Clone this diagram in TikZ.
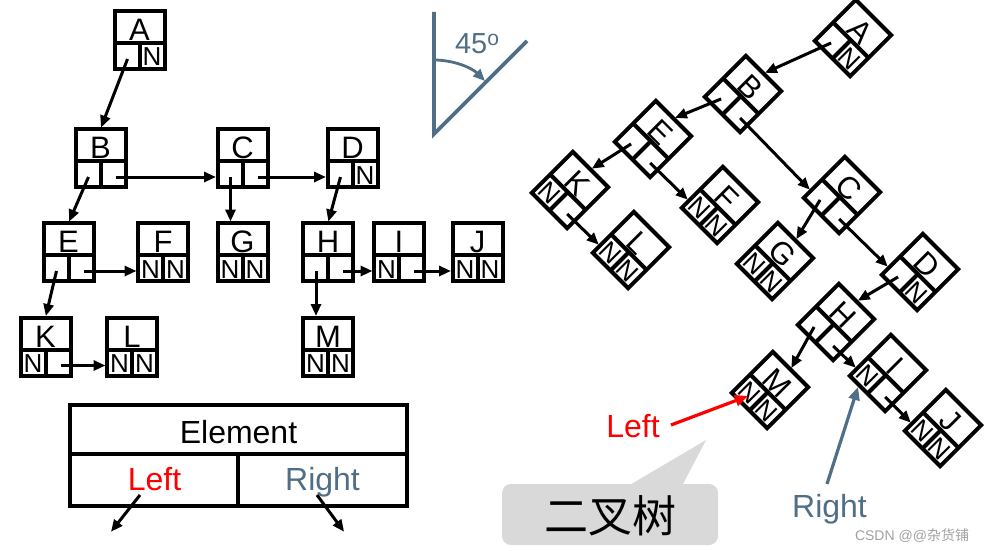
\documentclass[tikz,border=0pt]{standalone}
\usepackage{fontspec}
\setmainfont{Liberation Sans}
\newfontfamily\cjkfont{Noto Sans CJK SC}
\usetikzlibrary{arrows.meta}
\definecolor{steel}{RGB}{80,111,134}
\definecolor{callgray}{RGB}{217,217,217}
\definecolor{wmgray}{RGB}{160,160,160}
\begin{document}
\begin{tikzpicture}[x=1pt,y=-1pt,
  boxline/.style={line width=4pt},
  letter/.style={font=\fontsize{31}{31}\selectfont, inner sep=0pt, anchor=base, transform shape},
  cell/.style={font=\fontsize{26}{26}\selectfont, inner sep=0pt, anchor=base, transform shape},
  big/.style={font=\fontsize{32}{32}\selectfont, inner sep=0pt, anchor=base},
  ptr/.style={line width=3pt, shorten >=1.5pt, -{Triangle[length=12pt,width=10pt]}},
  pics/bnode/.style n args={3}{code={
     \draw[boxline] (-25,-29) rectangle (25,29);
     \draw[boxline] (-25,3) -- (25,3) (0,3) -- (0,29);
     \node[letter] (-let) at (0,0.5) {#1};
     \node[cell] (-lc) at (-12.5,26) {#2};
     \node[cell] (-rc) at (12.5,26) {#3};
     \coordinate (-top) at (0,-29);
     \coordinate (-w) at (-25,19);
     \coordinate (-lp) at (-12,19);
     \coordinate (-rp) at (15,19);
  }},
]
\useasboundingbox (0,0) rectangle (987,551);

% ---------- left tree ----------
\pic (A) at (139.5,40) {bnode={A}{}{N}};
\pic (B) at (100.5,158) {bnode={B}{}{}};
\pic (C) at (242.5,158) {bnode={C}{}{}};
\pic (D) at (352.5,158) {bnode={D}{}{N}};
\pic (E) at (68.5,252) {bnode={E}{}{}};
\pic (F) at (163,252) {bnode={F}{N}{N}};
\pic (G) at (242.5,252) {bnode={G}{N}{N}};
\pic (H) at (328,252) {bnode={H}{}{}};
\pic (I) at (399,252) {bnode={I}{N}{}};
\pic (J) at (477.5,252) {bnode={J}{N}{N}};
\pic (K) at (45.5,346.5) {bnode={K}{N}{}};
\pic (L) at (132,346.5) {bnode={L}{N}{N}};
\pic (M) at (328,346.5) {bnode={M}{N}{N}};

\draw[ptr] (A-lp) -- (B-top);
\draw[ptr] (B-lp) -- (E-top);
\draw[ptr] (B-rp) -- (C-w);
\draw[ptr] (C-lp) -- (C-lp |- G-top);
\draw[ptr] (C-rp) -- (D-w);
\draw[ptr] (D-lp) -- (H-top);
\draw[ptr] (E-lp) -- (K-top);
\draw[ptr] (E-rp) -- (F-w);
\draw[ptr] (K-rp) -- (L-w);
\draw[ptr] (H-lp) -- (H-lp |- M-top);
\draw[ptr] (H-rp) -- (I-w);
\draw[ptr] (I-rp) -- (J-w);

% ---------- legend ----------
\draw[boxline] (70,405) rectangle (407,506);
\draw[boxline] (70,454) -- (407,454) (238,454) -- (238,506);
\node[big] (elem) at (238.5,443) {Element};
\node[big, text=red] (lgleft) at (154.5,490) {Left};
\node[big, text=steel] (lgright) at (322.5,490) {Right};
\coordinate (lgLs) at (140,495);
\coordinate (lgLe) at (110,533);
\coordinate (lgRs) at (317,495);
\coordinate (lgRe) at (345,533);
\draw[ptr] (lgLs) -- (lgLe);
\draw[ptr] (lgRs) -- (lgRe);

% ---------- 45 degree mark ----------
\coordinate (vtop) at (434,12);
\coordinate (v0) at (434,134);
\coordinate (vdiag) at (527,41);
\draw[steel, line width=3.8pt] (vtop) -- (v0) -- (vdiag);
\coordinate (arcS) at (434,60);
\coordinate (arcE) at (485,81);
\draw[steel, line width=2.8pt, -{Triangle[length=12pt,width=10pt]}] (arcS) .. controls (453,60) and (471.5,67.5) .. (arcE);
\node[text=steel, font=\fontsize{29}{29}\selectfont, inner sep=0pt, anchor=base] (deg) at (477,53) {45\raisebox{8pt}{\fontsize{21}{21}\selectfont o}};

% ---------- rotated tree ----------
\pic[rotate=-45] (rA) at (853,38) {bnode={A}{}{N}};
\pic[rotate=-45] (rB) at (743,94) {bnode={B}{}{}};
\pic[rotate=-45] (rE) at (653,139) {bnode={E}{}{}};
\pic[rotate=-45] (rK) at (570,190) {bnode={K}{N}{}};
\pic[rotate=-45] (rF) at (720,205) {bnode={F}{N}{N}};
\pic[rotate=-45] (rL) at (631,250) {bnode={L}{N}{N}};
\pic[rotate=-45] (rC) at (842,195) {bnode={C}{}{}};
\pic[rotate=-45] (rG) at (775,261) {bnode={G}{N}{N}};
\pic[rotate=-45] (rD) at (920,272) {bnode={D}{}{N}};
\pic[rotate=-45] (rH) at (836,322) {bnode={H}{}{}};
\pic[rotate=-45] (rM) at (770,390) {bnode={M}{N}{N}};
\pic[rotate=-45] (rI) at (888,373) {bnode={I}{N}{}};
\pic[rotate=-45] (rJ) at (943,428) {bnode={J}{N}{N}};

\draw[ptr] (rA-lp) -- (rB-top);
\draw[ptr] (rB-lp) -- (rE-top);
\draw[ptr] (rB-rp) -- (rC-w);
\draw[ptr] (rE-lp) -- (rK-top);
\draw[ptr] (rE-rp) -- (rF-w);
\draw[ptr] (rK-rp) -- (rL-w);
\draw[ptr] (rC-lp) -- (rG-top);
\draw[ptr] (rC-rp) -- (rD-w);
\draw[ptr] (rD-lp) -- (rH-top);
\draw[ptr] (rH-lp) -- (rM-top);
\draw[ptr] (rH-rp) -- (rI-w);
\draw[ptr] (rI-rp) -- (rJ-w);

% ---------- callout ----------
\fill[callgray, rounded corners=9pt] (502,484) rectangle (718,545);
\fill[callgray] (628,486) -- (706,440) -- (682,486) -- cycle;
\node[inner sep=0pt, font=\cjkfont\fontsize{44}{44}\selectfont] (bt) at (610,516) {二叉树};

% ---------- annotations ----------
\node[big, text=red] (lblLeft) at (633,437) {Left};
\coordinate (redS) at (671,425);
\coordinate (redE) at (748,396);
\draw[red, line width=3.2pt, -{Triangle[length=13pt,width=11pt]}] (redS) -- (redE);
\node[big, text=steel] (lblRight) at (829.5,517) {Right};
\coordinate (blS) at (827,484);
\coordinate (blE) at (858,387);
\draw[steel, line width=3.2pt, -{Triangle[length=13pt,width=11pt]}] (blS) -- (blE);

\node[text=wmgray, font=\fontsize{14}{14}\selectfont, inner sep=0pt, anchor=base] (wm) at (912,540) {CSDN @@{\cjkfont 杂货铺}};
\end{tikzpicture}
\end{document}
